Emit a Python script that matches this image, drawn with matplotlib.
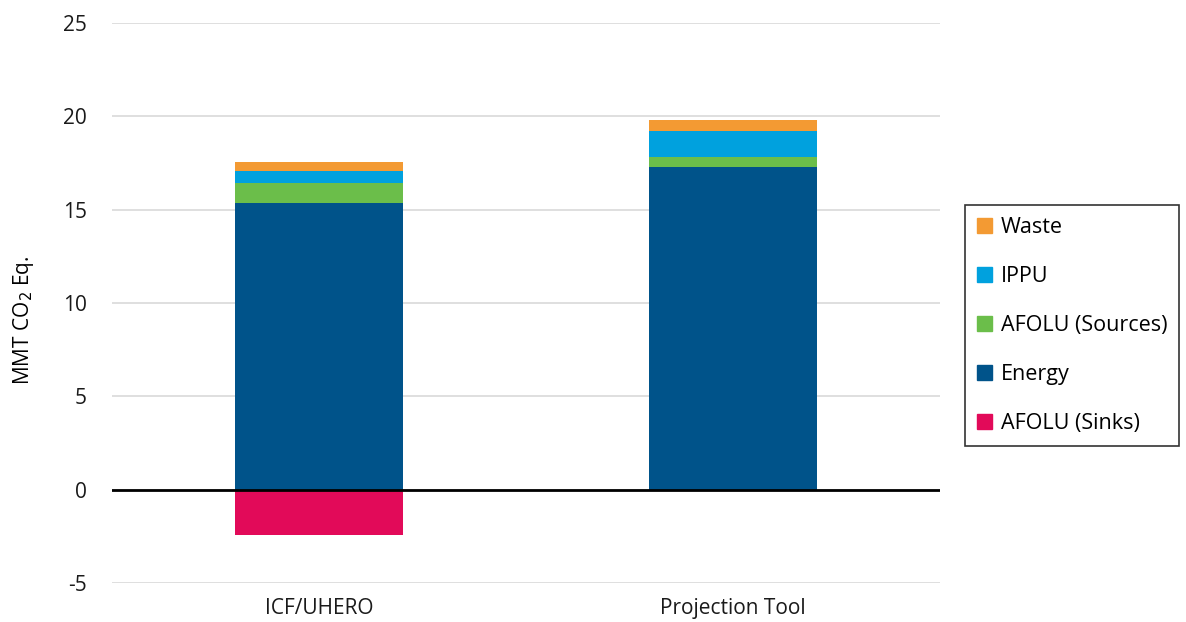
import numpy as np
import matplotlib.pyplot as plt
from matplotlib.patches import Patch

plt.rcParams['font.family'] = ['Open Sans', 'DejaVu Sans']
plt.rcParams['axes.unicode_minus'] = False

categories = ['ICF/UHERO', 'Projection Tool']
energy = [15.36, 17.26]
afolu_sources = [1.07, 0.54]
ippu = [0.62, 1.39]
waste = [0.50, 0.59]
afolu_sinks = [-2.45, 0.0]
yticks = [-5, 0, 5, 10, 15, 20, 25]

c_waste = '#F39A33'
c_ippu = '#00A1DE'
c_src = '#6BBE4A'
c_energy = '#00538A'
c_sink = '#E20A59'

fig = plt.figure(figsize=(11.86, 6.22), dpi=100)
ax = fig.add_axes([0.0944, 0.0627, 0.698, 0.9003])

x = np.arange(len(categories))
w = 0.405
energy = np.array(energy)
afolu_sources = np.array(afolu_sources)
ippu = np.array(ippu)
waste = np.array(waste)

ax.bar(x, afolu_sinks, w, color=c_sink, zorder=2)
ax.bar(x, energy, w, color=c_energy, zorder=2)
b = energy
ax.bar(x, afolu_sources, w, bottom=b, color=c_src, zorder=2)
b = b + afolu_sources
ax.bar(x, ippu, w, bottom=b, color=c_ippu, zorder=2)
b = b + ippu
ax.bar(x, waste, w, bottom=b, color=c_waste, zorder=2)

ax.set_xlim(-0.5, 1.5)
ax.set_ylim(-5, 25)
ax.set_yticks(yticks)
ax.set_xticks(x)
ax.set_xticklabels(categories)
ax.grid(axis='y', color='#D9D9D9', linewidth=1.2, zorder=0)
ax.axhline(0, color='black', linewidth=2, zorder=3)
for s in ax.spines.values():
    s.set_visible(False)
ax.tick_params(length=0, labelsize=15, colors='#1a1a1a')
ax.tick_params(axis='y', pad=18)
ax.tick_params(axis='x', pad=11)
ax.set_ylabel('MMT CO$_2$ Eq.', fontsize=15)
ax.yaxis.set_label_coords(-0.092, 0.47)

handles = [Patch(color=c_waste, label='Waste'),
           Patch(color=c_ippu, label='IPPU'),
           Patch(color=c_src, label='AFOLU (Sources)'),
           Patch(color=c_energy, label='Energy'),
           Patch(color=c_sink, label='AFOLU (Sinks)')]
leg = fig.legend(handles=handles, loc='upper left', bbox_to_anchor=(0.8137, 0.6704),
                 fontsize=15.5, frameon=True, fancybox=False, edgecolor='black',
                 handlelength=0.7, handleheight=0.7, handletextpad=0.4,
                 labelspacing=1.3, borderpad=0.55, borderaxespad=0)
leg.get_frame().set_linewidth(1.2)

plt.savefig('out.png', dpi=100)
